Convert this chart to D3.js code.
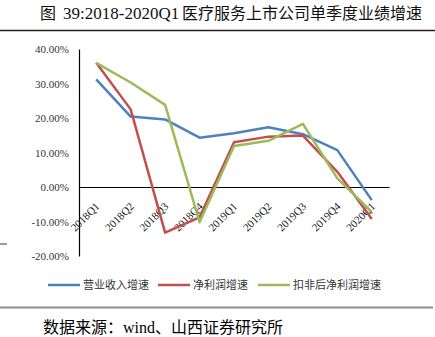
<!DOCTYPE html>
<html>
<head>
<meta charset="utf-8">
<script src="https://cdn.jsdelivr.net/npm/d3@7"></script>
<style>
  html, body { margin: 0; padding: 0; background: #fff; }
  svg { display: block; }
</style>
</head>
<body>
<svg id="chart" width="435" height="337"></svg>
<script>
const categories = ["2018Q1","2018Q2","2018Q3","2018Q4","2019Q1","2019Q2","2019Q3","2019Q4","2020Q1"];
const revenueGrowth = [31.2, 20.4, 19.6, 14.3, 15.6, 17.3, 15.3, 10.7, -3.8];
const netProfitGrowth = [36.0, 22.5, -13.2, -8.8, 13.0, 14.6, 14.9, 4.4, -9.3];
const adjNetProfitGrowth = [36.0, 30.3, 23.8, -10.2, 11.9, 13.4, 18.3, 2.5, -7.2];
const seriesNames = ["营业收入增速", "净利润增速", "扣非后净利润增速"];
const yTicks = [-20, -10, 0, 10, 20, 30, 40];
const titleText = "医疗服务上市公司单季度业绩增速";
const sourceText = "数据来源：wind、山西证券研究所";

const colors = ["#4F81BD", "#C0504D", "#9BBB59"];
const allSeries = [revenueGrowth, netProfitGrowth, adjNetProfitGrowth];

const svg = d3.select("#chart");
const serif = "'Liberation Serif', 'Times New Roman', 'Noto Sans CJK SC', serif";
const cjk = "'Noto Sans CJK SC', sans-serif";

// Title
const title = svg.append("text").attr("y", 19).attr("fill", "#111");
title.append("tspan").attr("x", 40).attr("font-size", 16).attr("font-family", cjk).text("图");
title.append("tspan").attr("x", 63).attr("font-size", 17).attr("font-family", serif).text("39:2018-2020Q1");
title.append("tspan").attr("x", 182).attr("font-size", 16).attr("font-family", cjk)
  .attr("textLength", 240).attr("lengthAdjust", "spacing").text(titleText);
svg.append("line").attr("x1", 0).attr("x2", 435).attr("y1", 30.5).attr("y2", 30.5)
  .attr("stroke", "#222").attr("stroke-width", 1.5);

// Scales
const x = d3.scaleBand().domain(categories).range([79, 389]);
const y = d3.scaleLinear().domain([-20, 40]).range([256, 49]);

// Y axis
const yAxis = svg.append("g").attr("transform", "translate(79,0)")
  .call(d3.axisLeft(y).tickValues(yTicks).tickSize(0).tickPadding(10)
    .tickFormat(d => d.toFixed(2) + "%"));
yAxis.attr("font-family", null);
yAxis.select(".domain").attr("stroke", "#000").attr("stroke-width", 1.2);
yAxis.selectAll("text").attr("font-family", serif).attr("font-size", 11).attr("fill", "#333");

// X axis at zero
const xAxis = svg.append("g").attr("transform", `translate(0,${y(0)})`)
  .call(d3.axisBottom(x).tickSize(0).tickFormat(""));
xAxis.select(".domain").attr("stroke", "#000").attr("stroke-width", 1.2);

// X labels rotated
svg.append("g").selectAll("text").data(categories).join("text")
  .attr("transform", d => `translate(${x(d) + x.bandwidth() / 2 + 4},${y(0) + 20}) rotate(-45)`)
  .attr("text-anchor", "end")
  .attr("font-family", serif).attr("font-size", 11).attr("fill", "#222")
  .text(d => d);

// Lines
const line = d3.line()
  .x((d, i) => x(categories[i]) + x.bandwidth() / 2)
  .y(d => y(d));
allSeries.forEach((s, k) => {
  svg.append("path").datum(s).attr("d", line)
    .attr("fill", "none").attr("stroke", colors[k]).attr("stroke-width", 2.5)
    .attr("stroke-linejoin", "round");
});

// Legend
const legendX = [48, 158, 258];
const lg = svg.append("g");
seriesNames.forEach((n, k) => {
  lg.append("line").attr("x1", legendX[k]).attr("x2", legendX[k] + 32)
    .attr("y1", 285).attr("y2", 285).attr("stroke", colors[k]).attr("stroke-width", 2.5);
  lg.append("text").attr("x", legendX[k] + 35).attr("y", 289)
    .attr("font-family", cjk).attr("font-size", 11).attr("fill", "#333").text(n);
});

// Stray frame mark at left
svg.append("line").attr("x1", 0).attr("x2", 7).attr("y1", 244).attr("y2", 244)
  .attr("stroke", "#333").attr("stroke-width", 1);

// Separator
svg.append("line").attr("x1", 0).attr("x2", 433).attr("y1", 307.5).attr("y2", 307.5)
  .attr("stroke", "#8c8c8c").attr("stroke-width", 2);

// Source
svg.append("text").attr("x", 43).attr("y", 333).attr("font-size", 16)
  .attr("font-family", "'Liberation Serif', 'Noto Sans CJK SC', serif").attr("fill", "#000")
  .text(sourceText);
</script>
</body>
</html>
